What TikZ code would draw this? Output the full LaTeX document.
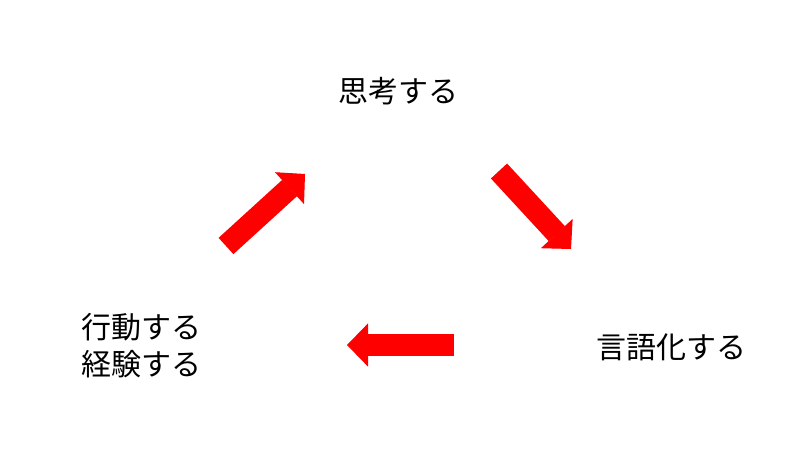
\documentclass[tikz,border=0pt]{standalone}
\usepackage{fontspec}
\newfontfamily\jpfont{Noto Sans CJK JP}
\usetikzlibrary{arrows.meta}
\tikzset{
  lbl/.style={inner sep=0pt, font=\jpfont\fontsize{30}{37}\selectfont, text=black},
  bigarrow/.style={draw=red, line width=22pt, -{Triangle[width=43pt,length=21pt,line width=1pt]}}
}
\begin{document}
\begin{tikzpicture}[x=1pt,y=-1pt]
\useasboundingbox[fill=white] (0,0) rectangle (800,450);
\node[lbl] (think) at (398,91) {思考する};
\node[lbl] (lang) at (671,347) {言語化する};
\node[lbl, align=left, anchor=west] (act) at (81,346) {行動する\\経験する};
\coordinate (t1) at (226,246);
\coordinate (h1) at (305,174);
\coordinate (t2) at (499,171);
\coordinate (h2) at (571,249);
\coordinate (t3) at (454,345);
\coordinate (h3) at (347,345);
\draw[bigarrow] (t1) -- (h1);
\draw[bigarrow] (t2) -- (h2);
\draw[bigarrow] (t3) -- (h3);
\end{tikzpicture}
\end{document}
